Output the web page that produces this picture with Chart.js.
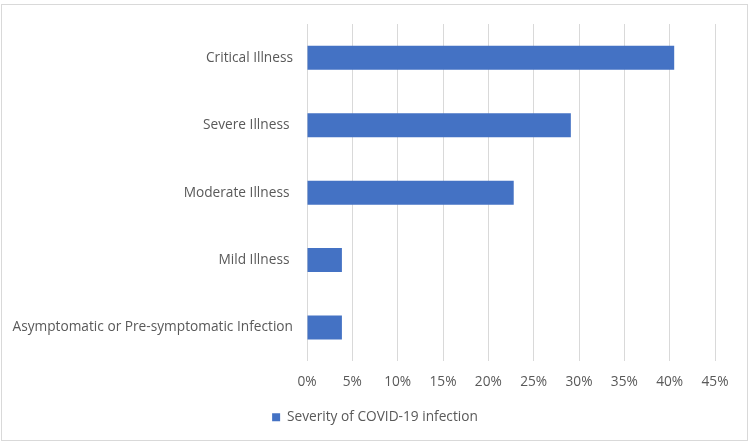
<!DOCTYPE html>
<html>
<head>
<meta charset="utf-8">
<script src="https://cdn.jsdelivr.net/npm/chart.js@4.4.1/dist/chart.umd.min.js"></script>
<style>
    html, body { margin: 0; padding: 0; background: #fff; }
    #wrap { position: relative; width: 750px; height: 442px; }
    #frame {
        position: absolute; left: 1px; top: 4px; width: 745px; height: 435px;
        border: 1px solid #d9d9d9; pointer-events: none;
    }
    canvas { position: absolute; left: 0; top: 0; }
</style>
</head>
<body>
<div id="wrap">
    <canvas id="chart" width="750" height="442"></canvas>
    <div id="frame"></div>
</div>
<script>
// data
const categories = [
    'Critical Illness',
    'Severe Illness ',
    'Moderate Illness ',
    'Mild Illness ',
    'Asymptomatic or Pre-symptomatic Infection'
];
const severityValues = [40.5, 29.1, 22.8, 3.85, 3.85];
const seriesName = 'Severity of COVID-19 infection';
const tickMax = 45;
const tickStep = 5;

const textColor = '#595959';
const fontFamily = '"Open Sans", sans-serif';
const fontSize = 13.7;

new Chart(document.getElementById('chart'), {
    type: 'bar',
    data: {
        labels: categories,
        datasets: [{
            label: seriesName,
            data: severityValues,
            backgroundColor: '#4472C4',
            borderWidth: 0,
            barPercentage: 0.45,
            categoryPercentage: 0.79
        }]
    },
    options: {
        indexAxis: 'y',
        responsive: false,
        animation: false,
        devicePixelRatio: 1,
        layout: { padding: { top: 24, right: 0, bottom: 8, left: 0 } },
        scales: {
            x: {
                min: 0,
                max: tickMax,
                ticks: {
                    stepSize: tickStep,
                    padding: 13,
                    color: textColor,
                    font: { family: fontFamily, size: fontSize },
                    callback: (v) => v + '%'
                },
                grid: { color: '#d9d9d9', drawTicks: false },
                border: { display: false },
                afterFit: (scale) => { scale.height = 41; }
            },
            y: {
                ticks: {
                    padding: 14,
                    color: textColor,
                    font: { family: fontFamily, size: fontSize }
                },
                grid: { display: false, drawTicks: false },
                border: { display: false },
                afterFit: (scale) => { scale.width = 307; }
            },
            // empty spacer on the right so the legend stays centred on the page
            spacer: {
                type: 'linear',
                position: 'right',
                ticks: { display: false },
                grid: { display: false, drawTicks: false },
                border: { display: false },
                afterFit: (scale) => { scale.width = 35; }
            }
        },
        plugins: {
            legend: {
                position: 'bottom',
                labels: {
                    boxWidth: 8,
                    boxHeight: 8,
                    padding: 8,
                    color: textColor,
                    font: { family: fontFamily, size: fontSize }
                }
            },
            tooltip: { enabled: false }
        }
    }
});
</script>
</body>
</html>
